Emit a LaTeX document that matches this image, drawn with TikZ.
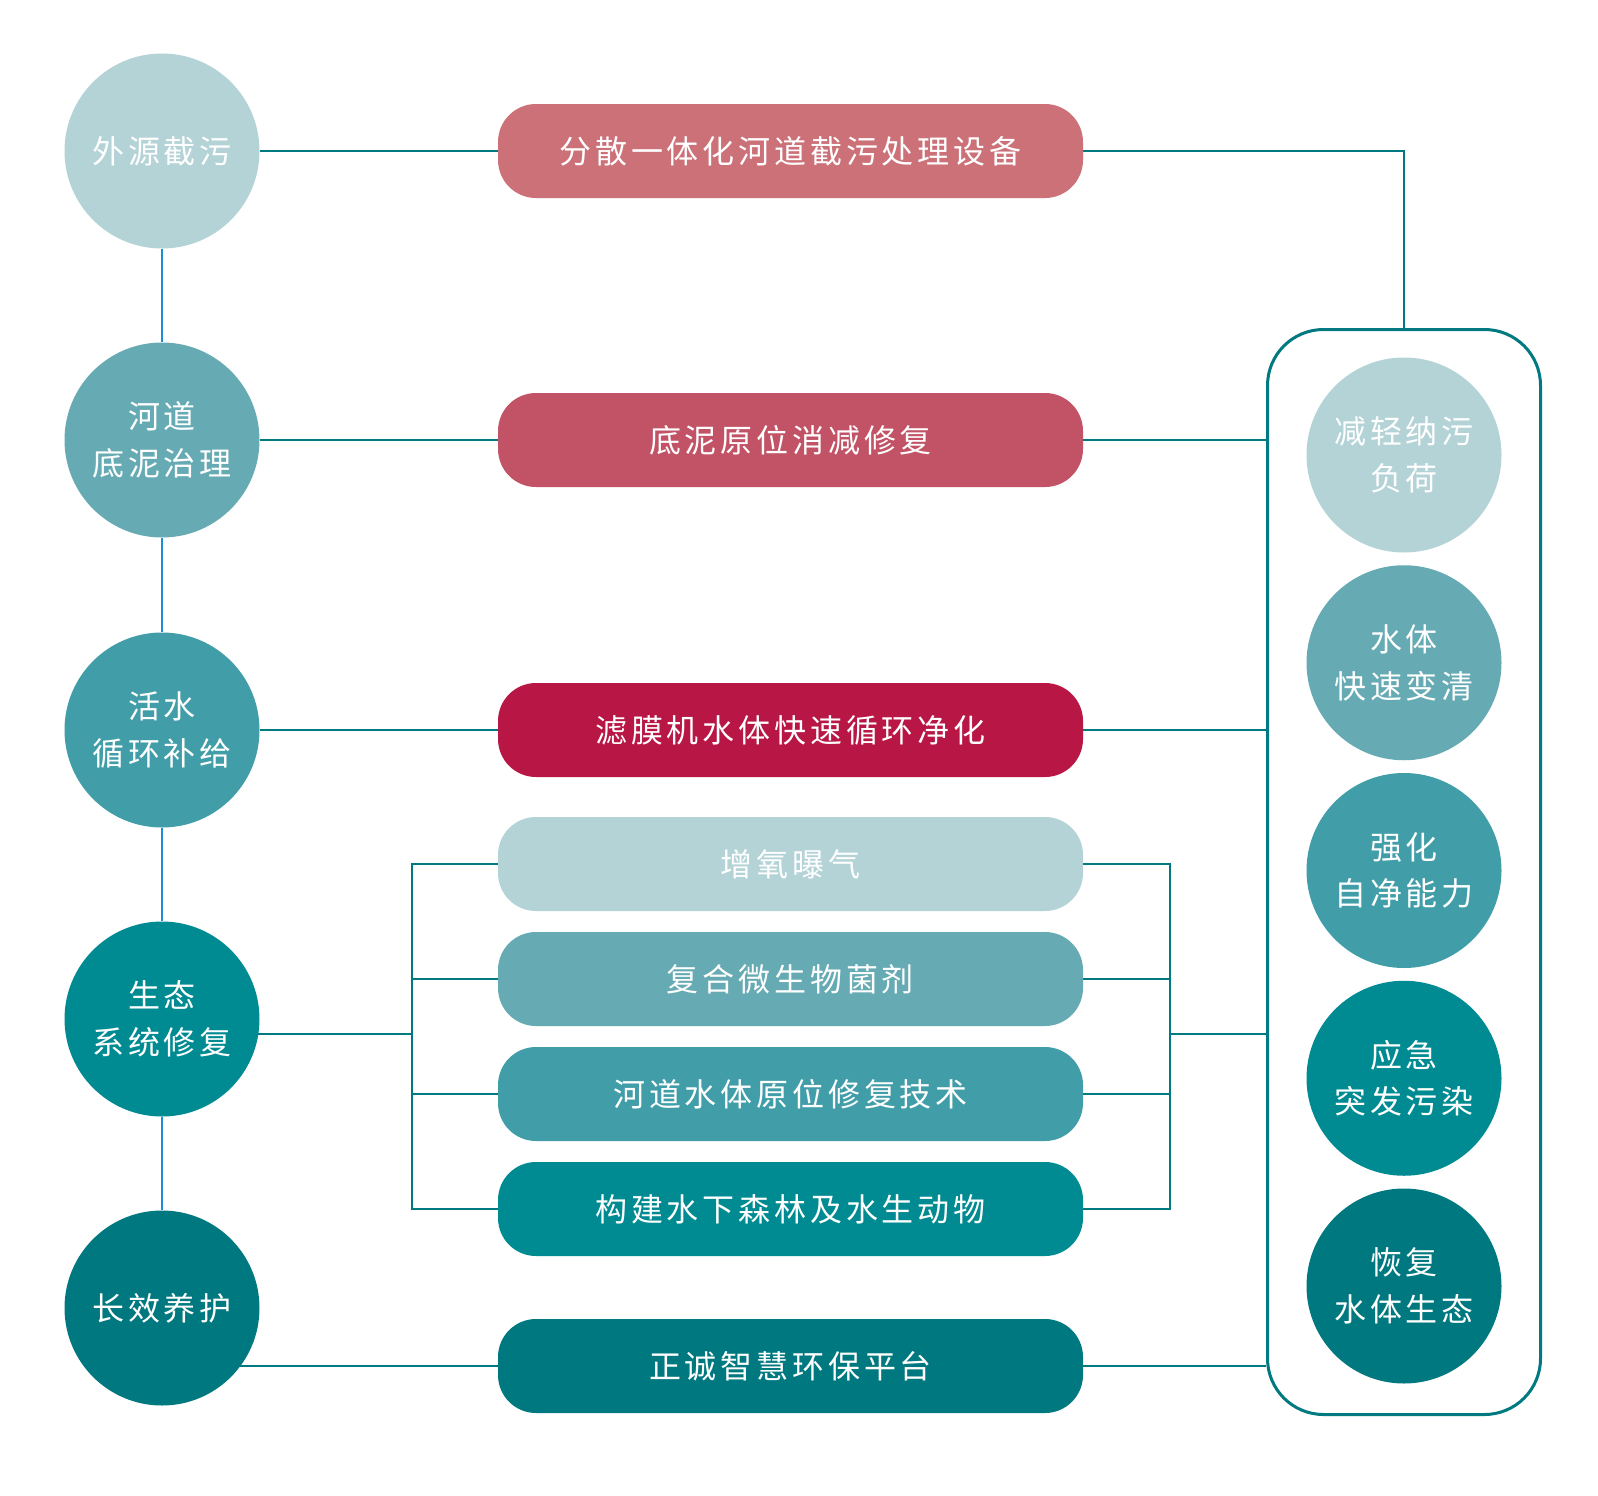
\documentclass[tikz,border=0pt]{standalone}
\usepackage{fontspec}
\newfontfamily\cjk[LetterSpace=12]{Noto Sans CJK SC}
\usetikzlibrary{backgrounds}
\definecolor{shA}{HTML}{B4D3D7}
\definecolor{shB}{HTML}{66ABB3}
\definecolor{shC}{HTML}{419EA8}
\definecolor{shD}{HTML}{008B92}
\definecolor{shE}{HTML}{00787F}
\definecolor{rdA}{HTML}{CD7179}
\definecolor{rdB}{HTML}{C25265}
\definecolor{rdC}{HTML}{B81645}
\definecolor{lnteal}{HTML}{007A80}
\definecolor{lnblue}{HTML}{1A8FD3}
\begin{document}
\begin{tikzpicture}[x=1pt,y=-1pt,
  txt/.style={text=white,font=\cjk\fontsize{32}{46.5}\selectfont,align=center},
  circ/.style={circle,minimum size=195pt,inner sep=0pt,txt},
  pill/.style={rectangle,rounded corners=38pt,minimum width=585pt,minimum height=94pt,inner sep=0pt,txt},
  tline/.style={draw=lnteal,line width=2.8pt},
  bline/.style={draw=lnblue,line width=2.8pt}]
\useasboundingbox (0,0) rectangle (1598,1496);

% left circles
\node[circ,fill=shA] (c1) at (162,151) {外源截污};
\node[circ,fill=shB] (c2) at (162,440) {河道\\底泥治理};
\node[circ,fill=shC] (c3) at (162,730) {活水\\循环补给};
\node[circ,fill=shD] (c4) at (162,1019) {生态\\系统修复};
\node[circ,fill=shE] (c5) at (162,1308) {长效养护};

% pills
\node[pill,fill=rdA] (p1) at (790.5,151) {分散一体化河道截污处理设备};
\node[pill,fill=rdB] (p2) at (790.5,440) {底泥原位消减修复};
\node[pill,fill=rdC] (p3) at (790.5,730) {滤膜机水体快速循环净化};
\node[pill,fill=shA] (p4) at (790.5,864) {增氧曝气};
\node[pill,fill=shB] (p5) at (790.5,979) {复合微生物菌剂};
\node[pill,fill=shC] (p6) at (790.5,1094) {河道水体原位修复技术};
\node[pill,fill=shD] (p7) at (790.5,1209) {构建水下森林及水生动物};
\node[pill,fill=shE] (p8) at (790.5,1366) {正诚智慧环保平台};

% right frame
\node[draw=lnteal,line width=3pt,rounded corners=56pt,minimum width=273pt,minimum height=1085pt,inner sep=0pt] (box) at (1404,872) {};

% right circles
\node[circ,fill=shA] (r1) at (1404,455) {减轻纳污\\负荷};
\node[circ,fill=shB] (r2) at (1404,662.75) {水体\\快速变清};
\node[circ,fill=shC] (r3) at (1404,870.5) {强化\\自净能力};
\node[circ,fill=shD] (r4) at (1404,1078.25) {应急\\突发污染};
\node[circ,fill=shE] (r5) at (1404,1286) {恢复\\水体生态};

\coordinate (bl) at (412,1034);
\coordinate (br) at (1170,1034);

\begin{scope}[on background layer]
  \fill[white] (0,0) rectangle (1598,1496);

  \draw[bline] (c1) -- (c2);
  \draw[bline] (c2) -- (c3);
  \draw[bline] (c3) -- (c4);
  \draw[bline] (c4) -- (c5);

  \draw[tline] (c1) -- (p1);
  \draw[tline] (p1.east) -| (box.north);
  \draw[tline] (c2) -- (p2);
  \draw[tline] (p2) -- (p2 -| box.west);
  \draw[tline] (c3) -- (p3);
  \draw[tline] (p3) -- (p3 -| box.west);

  \draw[tline] (c4.center |- bl) -- (bl);
  \draw[tline] (p4.west) -- (p4.west -| bl) -- (p7.west -| bl) -- (p7.west);
  \draw[tline] (p5.west -| bl) -- (p5.west);
  \draw[tline] (p6.west -| bl) -- (p6.west);
  \draw[tline] (p4.east) -- (p4.east -| br) -- (p7.east -| br) -- (p7.east);
  \draw[tline] (p5.east) -- (p5.east -| br);
  \draw[tline] (p6.east) -- (p6.east -| br);
  \draw[tline] (br) -- (br -| box.west);

  \draw[tline] (c5.center |- p8) -- (p8);
  \draw[tline] (p8) -- (p8 -| box.west);
\end{scope}
\end{tikzpicture}
\end{document}
